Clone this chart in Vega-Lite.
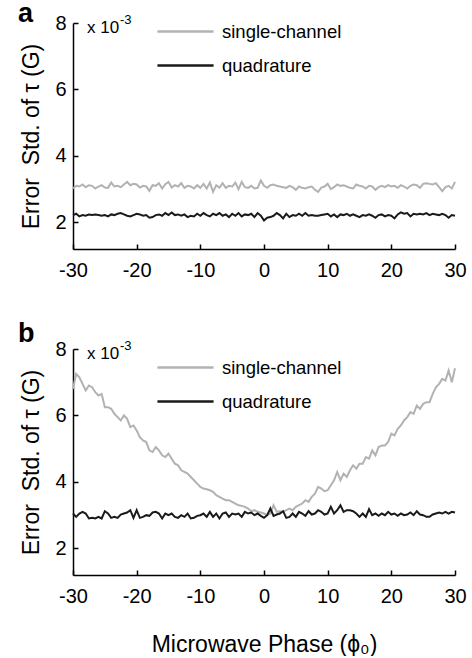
{
  "$schema": "https://vega.github.io/schema/vega-lite/v6.json",
  "padding": {"left": 18, "top": 0, "right": 0, "bottom": 0},
  "spacing": 100,
  "bounds": "flush",
  "datasets": {
    "a": [
      {"x": -30, "s": 3.02, "q": 2.22}, {"x": -29.5, "s": 3.10, "q": 2.26}, {"x": -29, "s": 3.08, "q": 2.18}, {"x": -28.5, "s": 3.14, "q": 2.22},
      {"x": -28, "s": 3.06, "q": 2.20}, {"x": -27.5, "s": 3.12, "q": 2.24}, {"x": -27, "s": 3.10, "q": 2.22}, {"x": -26.5, "s": 3.02, "q": 2.24},
      {"x": -26, "s": 3.08, "q": 2.22}, {"x": -25.5, "s": 3.12, "q": 2.20}, {"x": -25, "s": 3.05, "q": 2.22}, {"x": -24.5, "s": 3.04, "q": 2.18},
      {"x": -24, "s": 3.20, "q": 2.24}, {"x": -23.5, "s": 3.08, "q": 2.22}, {"x": -23, "s": 3.10, "q": 2.26}, {"x": -22.5, "s": 3.06, "q": 2.28},
      {"x": -22, "s": 3.14, "q": 2.24}, {"x": -21.5, "s": 3.22, "q": 2.20}, {"x": -21, "s": 3.12, "q": 2.18}, {"x": -20.5, "s": 3.16, "q": 2.22},
      {"x": -20, "s": 3.14, "q": 2.26}, {"x": -19.5, "s": 3.05, "q": 2.24}, {"x": -19, "s": 3.10, "q": 2.20}, {"x": -18.5, "s": 3.08, "q": 2.22},
      {"x": -18, "s": 2.95, "q": 2.14}, {"x": -17.5, "s": 3.12, "q": 2.16}, {"x": -17, "s": 3.10, "q": 2.22}, {"x": -16.5, "s": 3.18, "q": 2.24},
      {"x": -16, "s": 3.02, "q": 2.20}, {"x": -15.5, "s": 3.15, "q": 2.28}, {"x": -15, "s": 3.22, "q": 2.22}, {"x": -14.5, "s": 3.05, "q": 2.30},
      {"x": -14, "s": 3.12, "q": 2.22}, {"x": -13.5, "s": 3.08, "q": 2.24}, {"x": -13, "s": 3.18, "q": 2.20}, {"x": -12.5, "s": 3.04, "q": 2.24},
      {"x": -12, "s": 3.10, "q": 2.16}, {"x": -11.5, "s": 3.08, "q": 2.20}, {"x": -11, "s": 3.02, "q": 2.18}, {"x": -10.5, "s": 3.12, "q": 2.26},
      {"x": -10, "s": 3.04, "q": 2.20}, {"x": -9.5, "s": 3.16, "q": 2.28}, {"x": -9, "s": 3.02, "q": 2.22}, {"x": -8.5, "s": 3.20, "q": 2.18},
      {"x": -8, "s": 2.92, "q": 2.26}, {"x": -7.5, "s": 3.12, "q": 2.22}, {"x": -7, "s": 3.05, "q": 2.28}, {"x": -6.5, "s": 3.18, "q": 2.20},
      {"x": -6, "s": 3.04, "q": 2.24}, {"x": -5.5, "s": 3.10, "q": 2.16}, {"x": -5, "s": 3.08, "q": 2.26}, {"x": -4.5, "s": 3.20, "q": 2.20},
      {"x": -4, "s": 3.00, "q": 2.28}, {"x": -3.5, "s": 3.22, "q": 2.18}, {"x": -3, "s": 3.06, "q": 2.24}, {"x": -2.5, "s": 3.04, "q": 2.22},
      {"x": -2, "s": 3.10, "q": 2.26}, {"x": -1.5, "s": 3.02, "q": 2.16}, {"x": -1, "s": 3.04, "q": 2.28}, {"x": -0.5, "s": 3.26, "q": 2.20},
      {"x": 0, "s": 3.10, "q": 2.06}, {"x": 0.5, "s": 3.04, "q": 2.14}, {"x": 1, "s": 3.12, "q": 2.16}, {"x": 1.5, "s": 3.14, "q": 2.20},
      {"x": 2, "s": 3.10, "q": 2.28}, {"x": 2.5, "s": 3.08, "q": 2.22}, {"x": 3, "s": 3.06, "q": 2.12}, {"x": 3.5, "s": 3.04, "q": 2.26},
      {"x": 4, "s": 3.10, "q": 2.16}, {"x": 4.5, "s": 3.06, "q": 2.22}, {"x": 5, "s": 2.98, "q": 2.20}, {"x": 5.5, "s": 3.08, "q": 2.26},
      {"x": 6, "s": 3.04, "q": 2.20}, {"x": 6.5, "s": 3.02, "q": 2.28}, {"x": 7, "s": 3.06, "q": 2.20}, {"x": 7.5, "s": 3.08, "q": 2.22},
      {"x": 8, "s": 2.98, "q": 2.20}, {"x": 8.5, "s": 2.92, "q": 2.20}, {"x": 9, "s": 3.05, "q": 2.22}, {"x": 9.5, "s": 3.08, "q": 2.24},
      {"x": 10, "s": 3.16, "q": 2.26}, {"x": 10.5, "s": 3.00, "q": 2.18}, {"x": 11, "s": 3.06, "q": 2.24}, {"x": 11.5, "s": 3.14, "q": 2.16},
      {"x": 12, "s": 3.10, "q": 2.24}, {"x": 12.5, "s": 3.12, "q": 2.22}, {"x": 13, "s": 3.08, "q": 2.26}, {"x": 13.5, "s": 3.04, "q": 2.20},
      {"x": 14, "s": 3.02, "q": 2.24}, {"x": 14.5, "s": 3.14, "q": 2.20}, {"x": 15, "s": 3.10, "q": 2.16}, {"x": 15.5, "s": 3.08, "q": 2.22},
      {"x": 16, "s": 3.02, "q": 2.20}, {"x": 16.5, "s": 3.10, "q": 2.24}, {"x": 17, "s": 3.08, "q": 2.20}, {"x": 17.5, "s": 2.98, "q": 2.14},
      {"x": 18, "s": 3.06, "q": 2.22}, {"x": 18.5, "s": 3.10, "q": 2.24}, {"x": 19, "s": 3.06, "q": 2.18}, {"x": 19.5, "s": 3.12, "q": 2.22},
      {"x": 20, "s": 3.08, "q": 2.20}, {"x": 20.5, "s": 3.10, "q": 2.12}, {"x": 21, "s": 3.04, "q": 2.24}, {"x": 21.5, "s": 3.12, "q": 2.30},
      {"x": 22, "s": 3.08, "q": 2.26}, {"x": 22.5, "s": 3.02, "q": 2.28}, {"x": 23, "s": 3.10, "q": 2.18}, {"x": 23.5, "s": 3.14, "q": 2.26},
      {"x": 24, "s": 3.12, "q": 2.24}, {"x": 24.5, "s": 3.04, "q": 2.26}, {"x": 25, "s": 3.16, "q": 2.24}, {"x": 25.5, "s": 3.18, "q": 2.28},
      {"x": 26, "s": 3.16, "q": 2.22}, {"x": 26.5, "s": 3.14, "q": 2.26}, {"x": 27, "s": 3.18, "q": 2.24}, {"x": 27.5, "s": 3.06, "q": 2.22},
      {"x": 28, "s": 2.94, "q": 2.26}, {"x": 28.5, "s": 3.06, "q": 2.22}, {"x": 29, "s": 3.10, "q": 2.14}, {"x": 29.5, "s": 3.02, "q": 2.22},
      {"x": 30, "s": 3.22, "q": 2.20}
    ],
    "b": [
      {"x": -30, "s": 6.80, "q": 3.05}, {"x": -29.5, "s": 7.25, "q": 2.95}, {"x": -29, "s": 7.15, "q": 3.05}, {"x": -28.5, "s": 6.95, "q": 3.10},
      {"x": -28, "s": 6.75, "q": 3.05}, {"x": -27.5, "s": 6.90, "q": 2.90}, {"x": -27, "s": 6.85, "q": 2.92}, {"x": -26.5, "s": 6.70, "q": 2.90},
      {"x": -26, "s": 6.60, "q": 2.95}, {"x": -25.5, "s": 6.65, "q": 2.90}, {"x": -25, "s": 6.25, "q": 3.12}, {"x": -24.5, "s": 6.25, "q": 3.05},
      {"x": -24, "s": 6.20, "q": 2.92}, {"x": -23.5, "s": 6.05, "q": 2.95}, {"x": -23, "s": 5.95, "q": 2.92}, {"x": -22.5, "s": 5.85, "q": 3.02},
      {"x": -22, "s": 6.00, "q": 3.05}, {"x": -21.5, "s": 5.90, "q": 3.08}, {"x": -21, "s": 5.65, "q": 3.15}, {"x": -20.5, "s": 5.70, "q": 2.92},
      {"x": -20, "s": 5.55, "q": 3.15}, {"x": -19.5, "s": 5.35, "q": 2.92}, {"x": -19, "s": 5.25, "q": 2.95}, {"x": -18.5, "s": 5.20, "q": 3.00},
      {"x": -18, "s": 4.95, "q": 2.98}, {"x": -17.5, "s": 4.90, "q": 3.08}, {"x": -17, "s": 5.05, "q": 3.10}, {"x": -16.5, "s": 4.95, "q": 3.05},
      {"x": -16, "s": 4.80, "q": 2.90}, {"x": -15.5, "s": 4.75, "q": 3.05}, {"x": -15, "s": 4.85, "q": 3.00}, {"x": -14.5, "s": 4.70, "q": 3.05},
      {"x": -14, "s": 4.55, "q": 2.95}, {"x": -13.5, "s": 4.50, "q": 2.92}, {"x": -13, "s": 4.35, "q": 3.00}, {"x": -12.5, "s": 4.30, "q": 2.95},
      {"x": -12, "s": 4.25, "q": 3.05}, {"x": -11.5, "s": 4.15, "q": 2.90}, {"x": -11, "s": 4.05, "q": 2.92}, {"x": -10.5, "s": 3.95, "q": 2.98},
      {"x": -10, "s": 3.85, "q": 3.00}, {"x": -9.5, "s": 3.80, "q": 3.05}, {"x": -9, "s": 3.78, "q": 2.95}, {"x": -8.5, "s": 3.75, "q": 3.10},
      {"x": -8, "s": 3.70, "q": 2.95}, {"x": -7.5, "s": 3.60, "q": 3.05}, {"x": -7, "s": 3.55, "q": 2.90}, {"x": -6.5, "s": 3.50, "q": 3.05},
      {"x": -6, "s": 3.45, "q": 3.08}, {"x": -5.5, "s": 3.45, "q": 2.95}, {"x": -5, "s": 3.40, "q": 3.05}, {"x": -4.5, "s": 3.35, "q": 3.02},
      {"x": -4, "s": 3.30, "q": 3.05}, {"x": -3.5, "s": 3.28, "q": 2.95}, {"x": -3, "s": 3.25, "q": 3.10}, {"x": -2.5, "s": 3.20, "q": 3.05},
      {"x": -2, "s": 3.12, "q": 3.08}, {"x": -1.5, "s": 3.15, "q": 3.00}, {"x": -1, "s": 3.10, "q": 3.05}, {"x": -0.5, "s": 3.08, "q": 2.98},
      {"x": 0, "s": 3.05, "q": 2.92}, {"x": 0.5, "s": 3.00, "q": 3.00}, {"x": 1, "s": 3.05, "q": 3.20}, {"x": 1.5, "s": 3.30, "q": 2.98},
      {"x": 2, "s": 3.10, "q": 3.02}, {"x": 2.5, "s": 3.12, "q": 3.05}, {"x": 3, "s": 3.10, "q": 3.12}, {"x": 3.5, "s": 3.15, "q": 2.92},
      {"x": 4, "s": 3.20, "q": 2.95}, {"x": 4.5, "s": 3.15, "q": 3.05}, {"x": 5, "s": 3.25, "q": 2.95}, {"x": 5.5, "s": 3.30, "q": 3.10},
      {"x": 6, "s": 3.35, "q": 3.05}, {"x": 6.5, "s": 3.45, "q": 2.98}, {"x": 7, "s": 3.40, "q": 3.12}, {"x": 7.5, "s": 3.55, "q": 3.02},
      {"x": 8, "s": 3.65, "q": 3.05}, {"x": 8.5, "s": 3.85, "q": 3.15}, {"x": 9, "s": 3.80, "q": 3.10}, {"x": 9.5, "s": 3.72, "q": 3.02},
      {"x": 10, "s": 3.75, "q": 3.05}, {"x": 10.5, "s": 3.90, "q": 3.25}, {"x": 11, "s": 4.05, "q": 3.05}, {"x": 11.5, "s": 4.30, "q": 3.15},
      {"x": 12, "s": 4.05, "q": 3.30}, {"x": 12.5, "s": 4.25, "q": 3.10}, {"x": 13, "s": 4.15, "q": 3.15}, {"x": 13.5, "s": 4.35, "q": 3.15},
      {"x": 14, "s": 4.50, "q": 3.12}, {"x": 14.5, "s": 4.40, "q": 3.05}, {"x": 15, "s": 4.55, "q": 2.95}, {"x": 15.5, "s": 4.55, "q": 3.05},
      {"x": 16, "s": 4.75, "q": 2.95}, {"x": 16.5, "s": 4.70, "q": 3.18}, {"x": 17, "s": 4.95, "q": 3.00}, {"x": 17.5, "s": 4.80, "q": 3.05},
      {"x": 18, "s": 5.05, "q": 2.98}, {"x": 18.5, "s": 5.10, "q": 3.05}, {"x": 19, "s": 5.10, "q": 3.00}, {"x": 19.5, "s": 5.20, "q": 3.10},
      {"x": 20, "s": 5.45, "q": 3.02}, {"x": 20.5, "s": 5.40, "q": 3.05}, {"x": 21, "s": 5.60, "q": 2.98}, {"x": 21.5, "s": 5.70, "q": 3.05},
      {"x": 22, "s": 5.85, "q": 3.00}, {"x": 22.5, "s": 5.95, "q": 3.02}, {"x": 23, "s": 6.10, "q": 3.08}, {"x": 23.5, "s": 6.05, "q": 3.00},
      {"x": 24, "s": 6.30, "q": 3.12}, {"x": 24.5, "s": 6.20, "q": 3.02}, {"x": 25, "s": 6.35, "q": 3.00}, {"x": 25.5, "s": 6.40, "q": 2.95},
      {"x": 26, "s": 6.40, "q": 2.95}, {"x": 26.5, "s": 6.65, "q": 3.02}, {"x": 27, "s": 6.85, "q": 3.05}, {"x": 27.5, "s": 6.95, "q": 3.08},
      {"x": 28, "s": 7.10, "q": 3.05}, {"x": 28.5, "s": 7.05, "q": 3.10}, {"x": 29, "s": 7.35, "q": 3.05}, {"x": 29.5, "s": 7.00, "q": 3.10},
      {"x": 30, "s": 7.42, "q": 3.08}
    ]
  },
  "vconcat": [
    {
      "width": 382,
      "height": 226,
      "layer": [
        {
          "data": {"name": "a"},
          "transform": [{"fold": ["s", "q"], "as": ["k", "v"]}],
          "mark": {"type": "line", "strokeWidth": 2},
          "encoding": {
            "x": {"field": "x", "type": "quantitative", "scale": {"domain": [-30, 30], "nice": false},
                  "axis": {"values": [-30, -20, -10, 0, 10, 20, 30], "title": null, "labelFlush": false, "labelPadding": 16, "labelExpr": "replace(datum.label, '−', '-')"}},
            "y": {"field": "v", "type": "quantitative", "scale": {"domain": [1.2, 8], "nice": false, "zero": false},
                  "axis": {"values": [2, 3, 4, 5, 6, 7, 8], "labelExpr": "datum.value % 2 == 0 ? datum.label : ''", "title": "Error\u00a0\u00a0Std. of τ (G)", "titleFontSize": 23, "titlePadding": 11, "labelPadding": 12}},
            "color": {"field": "k", "type": "nominal", "sort": ["s", "q"], "scale": {"domain": ["s", "q"], "range": ["#b2b2b2", "#1a1a1a"]},
                      "legend": {"orient": "none", "legendX": 88, "legendY": -16, "title": null, "symbolType": "M-1.22,0H1.22", "symbolSize": 2116, "symbolStrokeWidth": 2.5, "labelFontSize": 18.5, "labelOffset": 12, "rowPadding": 0, "padding": 0, "labelColor": "black", "labelExpr": "datum.value == 's' ? 'single-channel' : 'quadrature'"}}
          }
        },
        {
          "data": {"values": [{"t": "x 10"}]},
          "mark": {"type": "text", "align": "left", "baseline": "alphabetic", "dx": 14, "dy": 9.5, "fontSize": 17, "color": "black"},
          "encoding": {"x": {"datum": -30, "type": "quantitative"}, "y": {"datum": 8, "type": "quantitative"}, "text": {"field": "t"}}
        },
        {
          "data": {"values": [{"t": "-3"}]},
          "mark": {"type": "text", "align": "left", "baseline": "alphabetic", "dx": 47, "dy": 1, "fontSize": 13, "color": "black"},
          "encoding": {"x": {"datum": -30, "type": "quantitative"}, "y": {"datum": 8, "type": "quantitative"}, "text": {"field": "t"}}
        },
        {
          "data": {"values": [{"t": "a"}]},
          "mark": {"type": "text", "align": "left", "baseline": "alphabetic", "dx": -55, "dy": -1, "fontSize": 27, "fontWeight": "bold", "color": "black"},
          "encoding": {"x": {"datum": -30, "type": "quantitative"}, "y": {"datum": 8, "type": "quantitative"}, "text": {"field": "t"}}
        }
      ]
    },
    {
      "width": 382,
      "height": 226,
      "layer": [
        {
          "data": {"name": "b"},
          "transform": [{"fold": ["s", "q"], "as": ["k", "v"]}],
          "mark": {"type": "line", "strokeWidth": 2},
          "encoding": {
            "x": {"field": "x", "type": "quantitative", "scale": {"domain": [-30, 30], "nice": false},
                  "axis": {"values": [-30, -20, -10, 0, 10, 20, 30], "title": "Microwave Phase (ϕ₀)", "titleFontSize": 23, "titlePadding": 27, "labelFlush": false, "labelPadding": 16, "labelExpr": "replace(datum.label, '−', '-')"}},
            "y": {"field": "v", "type": "quantitative", "scale": {"domain": [1.2, 8], "nice": false, "zero": false},
                  "axis": {"values": [2, 3, 4, 5, 6, 7, 8], "labelExpr": "datum.value % 2 == 0 ? datum.label : ''", "title": "Error\u00a0\u00a0Std. of τ (G)", "titleFontSize": 23, "titlePadding": 11, "labelPadding": 12}},
            "color": {"field": "k", "type": "nominal", "sort": ["s", "q"], "scale": {"domain": ["s", "q"], "range": ["#b2b2b2", "#1a1a1a"]},
                      "legend": {"orient": "none", "legendX": 88, "legendY": -6, "title": null, "symbolType": "M-1.22,0H1.22", "symbolSize": 2116, "symbolStrokeWidth": 2.5, "labelFontSize": 18.5, "labelOffset": 12, "rowPadding": 0, "padding": 0, "labelColor": "black", "labelExpr": "datum.value == 's' ? 'single-channel' : 'quadrature'"}}
          }
        },
        {
          "data": {"values": [{"t": "x 10"}]},
          "mark": {"type": "text", "align": "left", "baseline": "alphabetic", "dx": 14, "dy": 9.5, "fontSize": 17, "color": "black"},
          "encoding": {"x": {"datum": -30, "type": "quantitative"}, "y": {"datum": 8, "type": "quantitative"}, "text": {"field": "t"}}
        },
        {
          "data": {"values": [{"t": "-3"}]},
          "mark": {"type": "text", "align": "left", "baseline": "alphabetic", "dx": 47, "dy": 1, "fontSize": 13, "color": "black"},
          "encoding": {"x": {"datum": -30, "type": "quantitative"}, "y": {"datum": 8, "type": "quantitative"}, "text": {"field": "t"}}
        },
        {
          "data": {"values": [{"t": "b"}]},
          "mark": {"type": "text", "align": "left", "baseline": "alphabetic", "dx": -55, "dy": -7, "fontSize": 27, "fontWeight": "bold", "color": "black"},
          "encoding": {"x": {"datum": -30, "type": "quantitative"}, "y": {"datum": 8, "type": "quantitative"}, "text": {"field": "t"}}
        }
      ]
    }
  ],
  "resolve": {"scale": {"color": "independent"}, "legend": {"color": "independent"}},
  "config": {
    "font": "Liberation Sans",
    "view": {"stroke": null},
    "axis": {"domainColor": "black", "domainWidth": 1.5, "tickColor": "black", "tickWidth": 1.5, "tickSize": -5, "labelColor": "black", "labelFontSize": 20, "labelPadding": 15, "titleColor": "black", "titleFontSize": 21, "titleFontWeight": "normal", "grid": false},
    "text": {"font": "Liberation Sans", "color": "black"},
    "legend": {"labelFont": "Liberation Sans"}
  }
}
